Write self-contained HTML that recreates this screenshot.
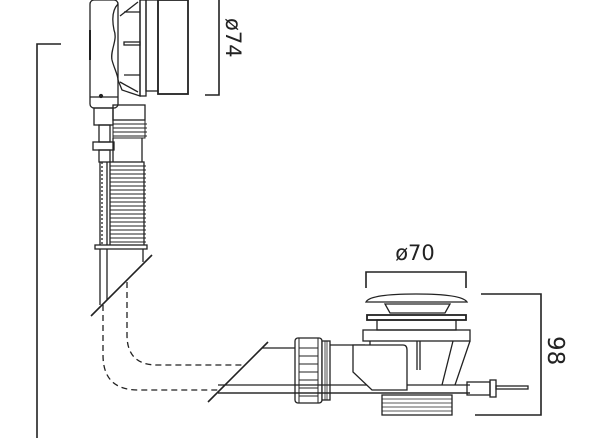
<!DOCTYPE html>
<html><head><meta charset="utf-8"><style>
html,body{margin:0;padding:0;background:#fff;}
svg{display:block;}
text{font-family:"DejaVu Sans","Liberation Sans",sans-serif;fill:#222;}
</style></head><body>
<svg width="600" height="441" viewBox="0 0 600 441" xmlns="http://www.w3.org/2000/svg" fill="none" stroke="#222" stroke-width="1.3">
<!-- left bracket -->
<path d="M37 438 V44 H61" stroke-width="1.6"/>
<!-- top assembly -->
<rect x="90" y="0" width="28" height="108" rx="4" fill="#fff"/>
<line x1="90" y1="97" x2="118" y2="97"/>
<line x1="90" y1="30" x2="90" y2="60" stroke-width="2"/>
<circle cx="101" cy="96" r="1.5" fill="#222"/>
<path d="M118 4 C112 10 112 20 114 30 C118 40 110 50 112 60 C114 68 118 75 118 80 L122 90 L140 96 V0"/>
<path d="M120 16 L138 2 M120 82 L138 92 M124 12 H140 M124 44 H140 M124 75 H140" />
<rect x="124" y="42" width="16" height="3" fill="#fff"/>
<rect x="140" y="0" width="6" height="96"/>
<rect x="146" y="0" width="12" height="91"/>
<rect x="158" y="0" width="30" height="94" stroke-width="1.8"/>
<path d="M205 95 H219 V0" stroke-width="1.6"/>
<text x="0" y="0" font-size="21" transform="translate(226,18) rotate(90)" stroke="none">ø74</text>
<!-- lower rod -->
<rect x="94" y="108" width="19" height="17"/>
<rect x="99" y="125" width="11" height="17"/>
<rect x="93" y="142" width="21" height="8"/>
<rect x="99" y="150" width="11" height="12"/>
<line x1="100" y1="162" x2="100" y2="305"/>
<line x1="107" y1="162" x2="107" y2="300"/>
<line x1="102" y1="162" x2="102" y2="247" stroke-dasharray="2 2"/>
<!-- corrugated pipe -->
<rect x="113" y="105" width="32" height="15"/>
<g stroke-width="1">
<rect x="113" y="120" width="32" height="18"/>
<path d="M113 124 H147 M113 128 H147 M113 132 H147 M113 136 H147"/>
</g>
<line x1="113" y1="138" x2="113" y2="162"/><line x1="142" y1="138" x2="142" y2="162"/>
<rect x="110" y="162" width="34" height="85" fill="#fff"/>
<g stroke-width="1">
<path d="M110 166H146M110 170H146M110 174H146M110 178H146M110 182H146M110 186H146M110 190H146M110 194H146M110 198H146M110 202H146M110 206H146M110 210H146M110 214H146M110 218H146M110 222H146M110 226H146M110 230H146M110 234H146M110 238H146M110 242H146"/>
</g>
<rect x="95" y="245" width="52" height="4" fill="#fff"/>
<line x1="143" y1="249" x2="143" y2="262"/>
<line x1="91" y1="316" x2="152" y2="255" stroke-width="1.6"/>
<!-- dashed pipe -->
<path d="M103 305 V355 Q103 390 138 390 H218" stroke-dasharray="6 4"/>
<path d="M127 282 V335 Q127 365 157 365 H243" stroke-dasharray="6 4"/>
<line x1="208" y1="402" x2="268" y2="342" stroke-width="1.6"/>
<path d="M262 348 H297"/>
<path d="M218 385 H470 M218 393 H470"/>
<!-- nut -->
<rect x="295" y="338" width="27" height="65" rx="3" fill="#fff"/>
<path d="M299 338 V403 M318 338 V403 M299 348H318M299 356H318M299 364H318M299 372H318M299 380H318M299 388H318M299 396H318" stroke-width="1"/>
<rect x="322" y="341" width="8" height="59" fill="#fff"/>
<path d="M325 341 V400 M327 341 V400" stroke-width="0.8"/>
<path d="M330 345 H365"/>
<line x1="295" y1="385" x2="330" y2="385"/><line x1="295" y1="393" x2="330" y2="393"/>
<!-- body -->
<path d="M370 341 V385 M453 341 L442 385 M470 341 L455 385"/>
<line x1="417" y1="341" x2="417" y2="370"/><line x1="420" y1="341" x2="420" y2="370"/>
<path d="M353 345 H403 Q407 345 407 350 V390 H372 L353 372 Z" fill="#fff"/>
<rect x="363" y="330" width="107" height="11" fill="#fff"/>
<rect x="377" y="320" width="79" height="10"/>
<rect x="367" y="315" width="99" height="5" stroke-width="1.8"/>
<path d="M385 304 L450 304 L445 313 H390 Z"/>
<path d="M366 302 Q370 294 416 294 Q462 294 467 302 Z" fill="#fff"/>
<!-- tail -->
<rect x="382" y="395" width="70" height="20"/>
<path d="M382 399H452M382 403H452M382 407H452M382 411H452" stroke-width="0.8"/>
<line x1="218" y1="393" x2="470" y2="393"/>
<!-- cable end -->
<rect x="467" y="382" width="23" height="13"/>
<rect x="490" y="380" width="6" height="17"/>
<rect x="496" y="386" width="32" height="3"/>
<!-- dim 70 -->
<path d="M366 288 V272 H466 V288" stroke-width="1.6"/>
<text x="415" y="260" font-size="21" text-anchor="middle" stroke="none">ø70</text>
<!-- dim 98 -->
<path d="M481 294 H541 V415 H475" stroke-width="1.6"/>
<text x="0" y="0" font-size="23" transform="translate(548,336) rotate(90)" stroke="none">98</text>
</svg>
</body></html>
